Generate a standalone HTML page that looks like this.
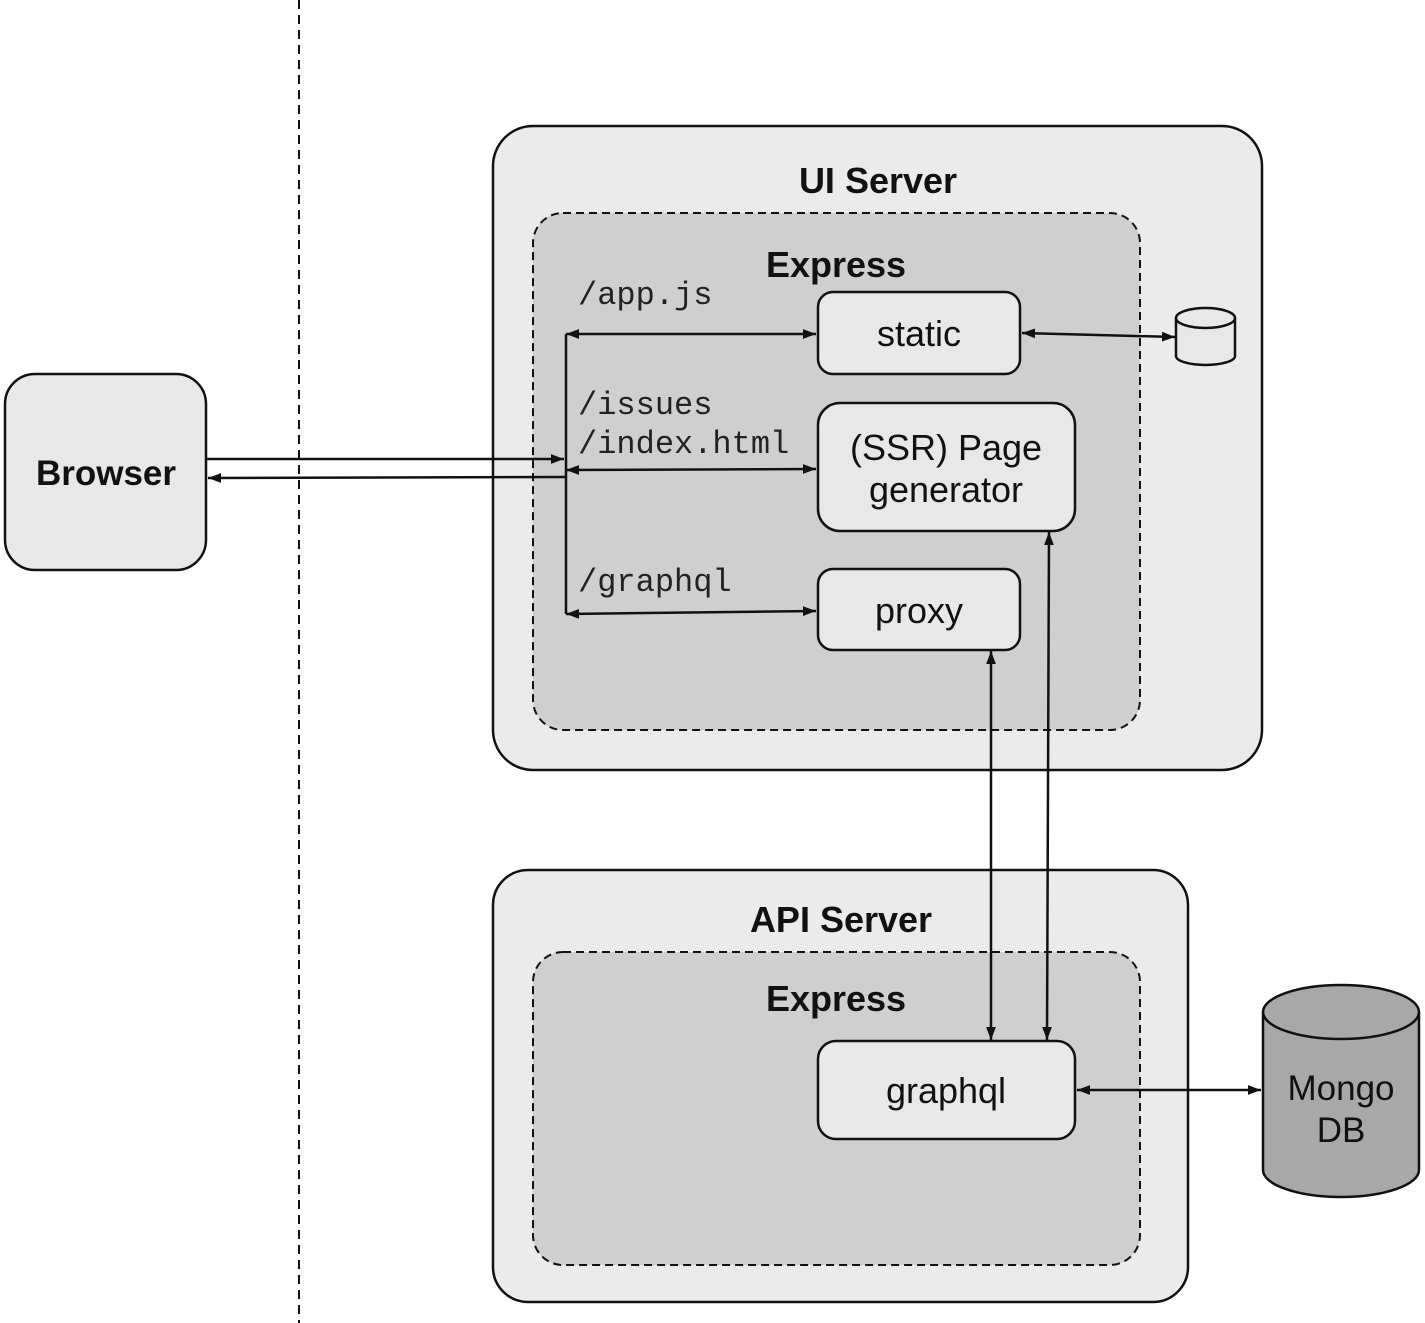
<!DOCTYPE html>
<html><head><style>html,body{margin:0;padding:0;background:#fff}svg{display:block}</style></head>
<body>
<svg width="1425" height="1323" viewBox="0 0 1425 1323" xmlns="http://www.w3.org/2000/svg">
<defs>
<marker id="a" viewBox="0 0 12 10" refX="12" refY="5" markerWidth="13" markerHeight="11" markerUnits="userSpaceOnUse" orient="auto-start-reverse"><path d="M0,0.5 L12,5 L0,9.5 z" fill="#111"/></marker>
</defs>
<line x1="299" y1="0" x2="299" y2="1323" stroke="#111" stroke-width="2" stroke-dasharray="9,6"/>
<rect x="5" y="374" width="201" height="196" rx="30" fill="#e8e8e8" stroke="#111" stroke-width="2.5"/>
<text x="106" y="485" font-family="Liberation Sans, sans-serif" font-weight="bold" font-size="35" text-anchor="middle" fill="#111">Browser</text>

<rect x="493" y="126" width="769" height="644" rx="40" fill="#ebebeb" stroke="#111" stroke-width="2.5"/>
<text x="878" y="193" font-family="Liberation Sans, sans-serif" font-weight="bold" font-size="36" text-anchor="middle" fill="#111">UI Server</text>
<rect x="533" y="213" width="607" height="517" rx="30" fill="#cfcfcf" stroke="#111" stroke-width="2" stroke-dasharray="8,5"/>
<text x="836" y="277" font-family="Liberation Sans, sans-serif" font-weight="bold" font-size="36" text-anchor="middle" fill="#111">Express</text>

<g font-family="Liberation Mono, monospace" font-size="32" fill="#222">
<text x="578" y="304">/app.js</text>
<text x="578" y="414">/issues</text>
<text x="578" y="453">/index.html</text>
<text x="578" y="591">/graphql</text>
</g>

<g fill="#e8e8e8" stroke="#111" stroke-width="2.5">
<rect x="818" y="292" width="202" height="82" rx="15"/>
<rect x="818" y="403" width="257" height="128" rx="22"/>
<rect x="818" y="569" width="202" height="81" rx="15"/>
</g>
<g font-family="Liberation Sans, sans-serif" font-size="36" text-anchor="middle" fill="#111">
<text x="919" y="346">static</text>
<text x="946" y="460">(SSR) Page</text>
<text x="946" y="502">generator</text>
<text x="919" y="623">proxy</text>
</g>

<g fill="#e8e8e8" stroke="#111" stroke-width="2.5">
<path d="M1176,318 L1176,356 A29.5,9 0 0 0 1235,356 L1235,318"/>
<ellipse cx="1205.5" cy="318" rx="29.5" ry="10"/>
</g>

<rect x="493" y="870" width="695" height="432" rx="35" fill="#ebebeb" stroke="#111" stroke-width="2.5"/>
<text x="841" y="932" font-family="Liberation Sans, sans-serif" font-weight="bold" font-size="36" text-anchor="middle" fill="#111">API Server</text>
<rect x="533" y="952" width="607" height="313" rx="30" fill="#cfcfcf" stroke="#111" stroke-width="2" stroke-dasharray="8,5"/>
<text x="836" y="1011" font-family="Liberation Sans, sans-serif" font-weight="bold" font-size="36" text-anchor="middle" fill="#111">Express</text>
<rect x="818" y="1041" width="257" height="98" rx="18" fill="#e8e8e8" stroke="#111" stroke-width="2.5"/>
<text x="946" y="1103" font-family="Liberation Sans, sans-serif" font-size="36" text-anchor="middle" fill="#111">graphql</text>

<g fill="#a8a8a8" stroke="#111" stroke-width="2.5">
<path d="M1263,1012 L1263,1170 A78,27 0 0 0 1419,1170 L1419,1012"/>
<ellipse cx="1341" cy="1012" rx="78" ry="27"/>
</g>
<text x="1341" y="1100" font-family="Liberation Sans, sans-serif" font-size="35" text-anchor="middle" fill="#111">Mongo</text>
<text x="1341" y="1142" font-family="Liberation Sans, sans-serif" font-size="35" text-anchor="middle" fill="#111">DB</text>

<g stroke="#111" stroke-width="2.5" fill="none">
<line x1="566" y1="334" x2="566" y2="614"/>
<line x1="566" y1="334" x2="816" y2="334" marker-start="url(#a)" marker-end="url(#a)"/>
<line x1="566" y1="470" x2="816" y2="469" marker-start="url(#a)" marker-end="url(#a)"/>
<line x1="566" y1="614" x2="816" y2="611" marker-start="url(#a)" marker-end="url(#a)"/>
<line x1="206" y1="459" x2="564" y2="459" marker-end="url(#a)"/>
<line x1="566" y1="477" x2="208" y2="478" marker-end="url(#a)"/>
<line x1="1022" y1="333" x2="1175" y2="337" marker-start="url(#a)" marker-end="url(#a)"/>
<line x1="991" y1="651" x2="991" y2="1040" marker-start="url(#a)" marker-end="url(#a)"/>
<line x1="1049" y1="532" x2="1047" y2="1040" marker-start="url(#a)" marker-end="url(#a)"/>
<line x1="1077" y1="1090" x2="1261" y2="1090" marker-start="url(#a)" marker-end="url(#a)"/>
</g>
</svg>
</body></html>
